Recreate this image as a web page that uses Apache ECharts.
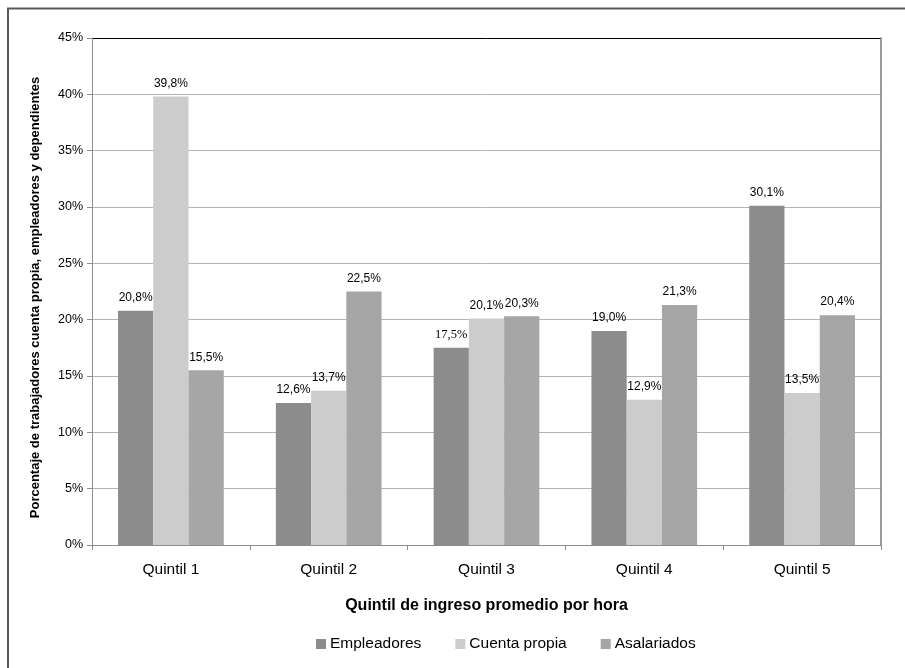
<!DOCTYPE html>
<html>
<head>
<meta charset="utf-8">
<script src="https://cdn.jsdelivr.net/npm/echarts@6/dist/echarts.min.js"></script>
<style>
  html, body { margin: 0; padding: 0; background: #fff; }
  #chart { width: 905px; height: 668px; }
</style>
</head>
<body>
<div id="chart"></div>
<script>
// Quintiles of average hourly income
const categories = ['Quintil 1', 'Quintil 2', 'Quintil 3', 'Quintil 4', 'Quintil 5'];

// Share of workers (%) in each quintile, by employment category
const empleadores   = [20.8, 12.6, 17.5, 19.0, 30.1];
const cuentaPropia  = [39.8, 13.7, 20.1, 12.9, 13.5];
const asalariados   = [15.5, 22.5, 20.3, 21.3, 20.4];

const seriesNames = ['Empleadores', 'Cuenta propia', 'Asalariados'];
const seriesValues = [empleadores, cuentaPropia, asalariados];
const seriesColors = ['#8c8c8c', '#cccccc', '#a6a6a6'];

const fmt = v => v.toFixed(1).replace('.', ',') + '%';

const chart = echarts.init(document.getElementById('chart'), null, { renderer: 'canvas' });

// Horizontal gridlines: light grey, the top one (45%) drawn black
const gridColors = [];
for (let i = 0; i < 9; i++) gridColors.push('#b4b4b4');
gridColors.push('#000000');

const series = seriesValues.map((vals, si) => ({
  name: seriesNames[si],
  type: 'bar',
  barGap: '0%',
  barCategoryGap: '33%',
  itemStyle: { color: seriesColors[si] },
  label: {
    show: true,
    position: 'top',
    distance: 7,
    color: '#000',
    fontFamily: 'Arial, "Liberation Sans", sans-serif',
    fontSize: 12,
    formatter: p => fmt(p.value)
  },
  data: vals.map((v, i) => {
    // the Quintil 3 employer label is set in a serif face
    if (si === 0 && i === 2) {
      return { value: v, label: { fontFamily: '"Liberation Serif", "Times New Roman", serif', fontSize: 12.5 } };
    }
    return v;
  })
}));

chart.setOption({
  animation: false,
  backgroundColor: '#ffffff',
  textStyle: { fontFamily: 'Arial, "Liberation Sans", sans-serif', color: '#000' },
  graphic: [{
    type: 'rect',
    shape: { x: 8, y: 8.5, width: 1000, height: 1000 },
    style: { fill: 'none', stroke: '#595959', lineWidth: 2 },
    silent: true,
    z: 100
  }],
  grid: { left: 92, right: 24, top: 38, bottom: 123, containLabel: false },
  legend: {
    data: seriesNames,
    left: 311,
    top: 631,
    itemWidth: 10,
    itemHeight: 10,
    itemGap: 34,
    icon: 'rect',
    textStyle: { fontSize: 15.5, color: '#000', fontFamily: 'Arial, "Liberation Sans", sans-serif', padding: [0, 0, 0, -1] }
  },
  xAxis: {
    type: 'category',
    data: categories,
    name: 'Quintil de ingreso promedio por hora',
    nameLocation: 'middle',
    nameGap: 53,
    nameTextStyle: { fontSize: 16, fontWeight: 'bold', color: '#000' },
    axisLine: { show: true, lineStyle: { color: '#8c8c8c', width: 1 } },
    axisTick: { show: true, alignWithLabel: false, length: 5, lineStyle: { color: '#8c8c8c' } },
    axisLabel: { fontSize: 15.5, color: '#000', margin: 17 },
    splitLine: { show: false }
  },
  yAxis: [{
    type: 'value',
    min: 0,
    max: 45,
    interval: 5,
    name: 'Porcentaje de trabajadores cuenta propia, empleadores y dependientes',
    nameLocation: 'middle',
    nameGap: 50,
    nameTextStyle: { fontSize: 13, fontWeight: 'bold', color: '#000', padding: [0, 12, 0, 0] },
    axisLine: { show: true, lineStyle: { color: '#8c8c8c', width: 1 } },
    axisTick: { show: true, length: 5, lineStyle: { color: '#8c8c8c' } },
    axisLabel: { fontSize: 12.5, color: '#000', margin: 9, formatter: v => v + '%' },
    splitLine: { show: true, lineStyle: { color: gridColors, width: 1 } }
  }, {
    // right frame of the plot area
    type: 'value',
    position: 'right',
    min: 0,
    max: 45,
    interval: 5,
    axisLine: { show: true, lineStyle: { color: '#7a7a7a', width: 1.5 } },
    axisTick: { show: false },
    axisLabel: { show: false },
    splitLine: { show: false }
  }],
  series: series
});
</script>
</body>
</html>
